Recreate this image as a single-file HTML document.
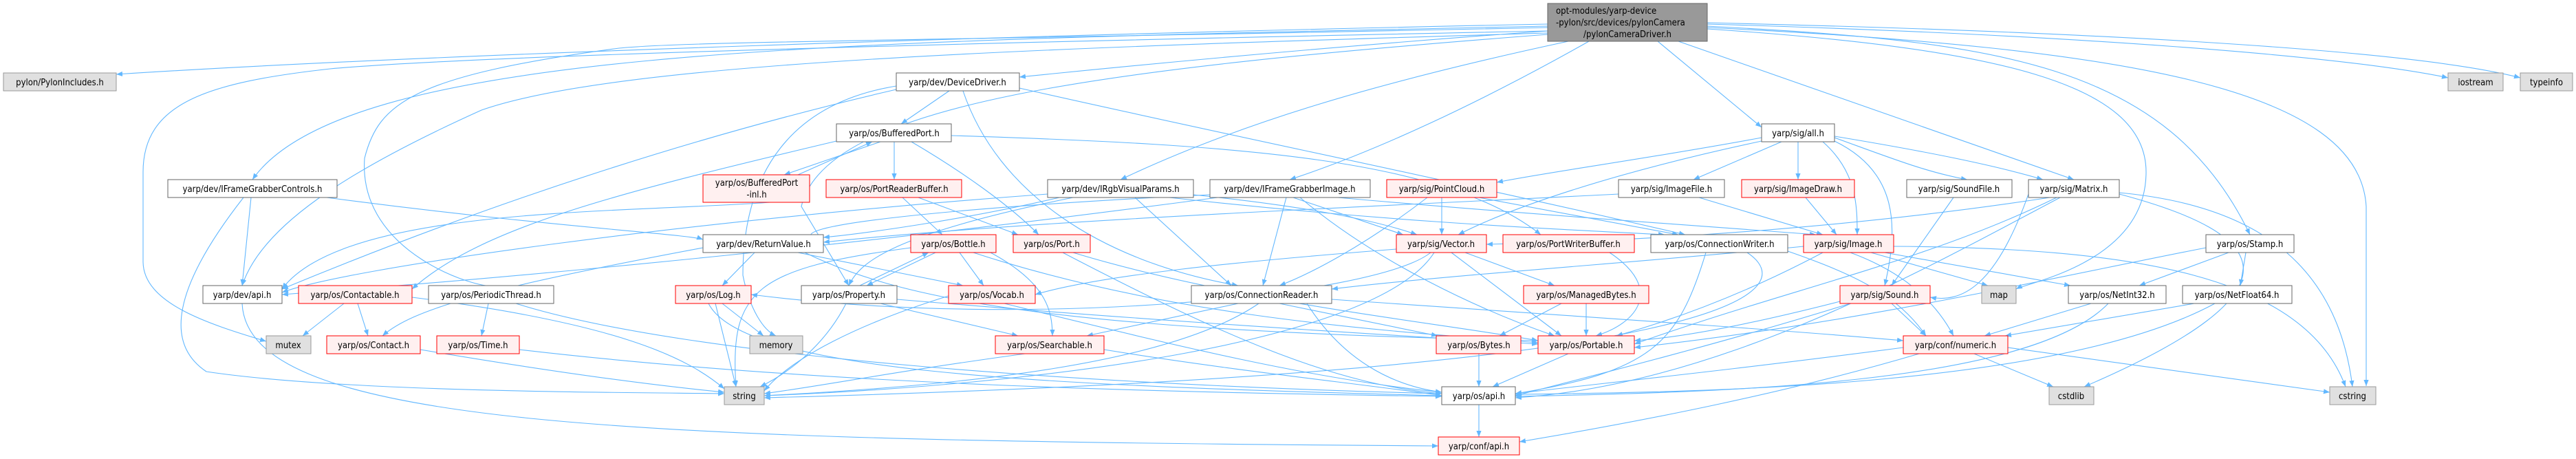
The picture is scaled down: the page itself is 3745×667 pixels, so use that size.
<!DOCTYPE html>
<html><head><meta charset="utf-8"><style>
html,body{margin:0;padding:0;background:#fff;}
svg{display:block;}
text{font-family:"DejaVu Sans Condensed","Liberation Sans",sans-serif;font-size:13px;fill:#000;}
.e{fill:none;stroke:#63b8ff;stroke-width:1.1;}
.w{fill:#fff;stroke:#666;stroke-width:1;}
.r{fill:#fff0f0;stroke:#f00;stroke-width:1;}
.g{fill:#e0e0e0;stroke:#999;stroke-width:1;}
</style></head><body>
<svg width="3745" height="667" viewBox="0 0 3745 667" xmlns="http://www.w3.org/2000/svg">
<defs><marker id="a" viewBox="0 0 10 10" refX="10" refY="5" markerWidth="9" markerHeight="9" orient="auto" markerUnits="userSpaceOnUse"><path d="M0,1 L10,5 L0,9 z" fill="#63b8ff"/></marker></defs>
<g marker-end="url(#a)">
<path class="e" d="M2250,35 C1500,50 600,80 169,108"/>
<path class="e" d="M2250,38 C1200,60 500,70 367,261"/>
<path class="e" d="M2250,45 C1900,70 1600,100 1482,112"/>
<path class="e" d="M2280,60 C2000,120 1800,180 1629,261"/>
<path class="e" d="M2310,60 C2150,150 2000,220 1875,261"/>
<path class="e" d="M2410,60 L2561,185"/>
<path class="e" d="M2440,60 C2700,150 2900,220 3015,261"/>
<path class="e" d="M2482,38 C2900,60 3150,90 3271,341"/>
<path class="e" d="M2482,35 C3000,50 3400,80 3559,113"/>
<path class="e" d="M2482,33 C3000,45 3500,70 3664,113"/>
<path class="e" d="M2482,40 C3100,70 3430,130 3440,300 L3440,561"/>
<path class="e" d="M2482,42 C2900,70 3120,120 3120,250 C3120,380 2950,410 2931,420"/>
<path class="e" d="M2250,40 C1300,60 1000,60 900,70 C600,110 550,150 530,230 C520,370 700,420 714,415"/>
<path class="e" d="M2250,45 C1500,60 700,80 480,100 C300,120 208,150 208,250 L208,380 C208,440 300,470 387,496"/>
<path class="e" d="M2250,48 C1500,70 900,90 700,160 C500,250 380,330 352,415"/>
<path class="e" d="M2250,50 C1600,100 1200,150 1165,300 L1234,415"/>
<path class="e" d="M365,287 L352,415"/>
<path class="e" d="M354,287 C250,420 240,500 300,540 C500,570 900,570 1053,572"/>
<path class="e" d="M475,287 C800,330 1000,340 1022,348"/>
<path class="e" d="M1380,132 L1310,180"/>
<path class="e" d="M1303,125 C1150,150 1080,250 1080,400 C1090,450 1110,480 1128,488"/>
<path class="e" d="M1303,130 C1000,200 700,300 410,420"/>
<path class="e" d="M1400,132 C1450,280 1600,380 1800,415"/>
<path class="e" d="M1482,128 C1800,200 2100,260 2450,341"/>
<path class="e" d="M1280,206 L1140,254"/>
<path class="e" d="M1300,206 L1300,261"/>
<path class="e" d="M1325,206 C1400,250 1470,300 1510,341"/>
<path class="e" d="M1383,197 C1800,210 2100,230 2240,341"/>
<path class="e" d="M1216,205 C900,280 700,330 599,420"/>
<path class="e" d="M1160,254 L1268,206"/>
<path class="e" d="M1120,294 C900,310 500,300 410,420"/>
<path class="e" d="M1312,287 L1370,341"/>
<path class="e" d="M1335,287 L1480,341"/>
<path class="e" d="M1540,287 C1400,320 1250,340 1197,345"/>
<path class="e" d="M1560,287 C1300,340 1250,380 1234,415"/>
<path class="e" d="M1523,282 C1000,320 500,390 410,425"/>
<path class="e" d="M1650,287 L1790,415"/>
<path class="e" d="M1735,283 C1900,300 2000,320 2060,341"/>
<path class="e" d="M1700,287 C2000,320 2200,330 2420,341"/>
<path class="e" d="M1870,287 L1836,415"/>
<path class="e" d="M1880,287 L2040,341"/>
<path class="e" d="M1945,287 C2200,310 2500,330 2640,341"/>
<path class="e" d="M1890,287 C2000,380 2150,450 2260,488"/>
<path class="e" d="M1759,283 C1400,300 1100,330 1197,350"/>
<path class="e" d="M1770,287 C1300,350 800,400 410,428"/>
<path class="e" d="M1097,367 L1050,415"/>
<path class="e" d="M1160,367 L1400,415"/>
<path class="e" d="M1170,367 C1300,430 1500,480 2236,495"/>
<path class="e" d="M1022,360 C700,420 600,450 556,488"/>
<path class="e" d="M1360,367 L1260,415"/>
<path class="e" d="M1395,367 L1430,415"/>
<path class="e" d="M1440,367 C1520,410 1530,450 1530,488"/>
<path class="e" d="M1415,367 C1700,460 2000,480 2236,498"/>
<path class="e" d="M1324,360 C1100,390 1060,420 1070,562"/>
<path class="e" d="M1250,415 L1350,367"/>
<path class="e" d="M1280,441 L1480,488"/>
<path class="e" d="M1304,435 C1600,460 1900,480 2236,500"/>
<path class="e" d="M1230,441 C1200,500 1150,540 1105,562"/>
<path class="e" d="M1545,367 C1800,500 1950,560 2096,572"/>
<path class="e" d="M1560,367 C1800,440 2100,470 2236,495"/>
<path class="e" d="M1050,441 L1110,488"/>
<path class="e" d="M1040,441 L1070,562"/>
<path class="e" d="M1030,441 C1080,540 1500,560 2096,575"/>
<path class="e" d="M1460,441 C1700,500 1900,550 2096,570"/>
<path class="e" d="M1379,430 C1250,470 1150,520 1111,568"/>
<path class="e" d="M1860,441 L2090,488"/>
<path class="e" d="M1800,441 L1580,488"/>
<path class="e" d="M1936,435 C2300,460 2600,480 2767,495"/>
<path class="e" d="M1830,441 C1700,530 1400,560 1111,575"/>
<path class="e" d="M1900,441 C1950,520 2020,560 2096,570"/>
<path class="e" d="M1490,514 C1300,540 1200,560 1111,572"/>
<path class="e" d="M1605,508 C1800,540 2000,560 2096,575"/>
<path class="e" d="M500,441 L440,488"/>
<path class="e" d="M520,441 L535,488"/>
<path class="e" d="M599,432 C900,470 1000,520 1053,565"/>
<path class="e" d="M611,508 C800,540 950,560 1053,570"/>
<path class="e" d="M710,441 L700,488"/>
<path class="e" d="M750,441 C1000,520 1600,560 2096,572"/>
<path class="e" d="M755,508 C1200,560 1700,570 2096,576"/>
<path class="e" d="M352,441 C360,620 900,640 2091,648"/>
<path class="e" d="M2561,200 C2400,230 2250,250 2176,265"/>
<path class="e" d="M2590,206 L2462,261"/>
<path class="e" d="M2614,206 L2614,261"/>
<path class="e" d="M2650,206 C2700,250 2700,300 2700,341"/>
<path class="e" d="M2561,205 C2350,250 2200,300 2120,341"/>
<path class="e" d="M2667,200 C2750,230 2800,250 2860,261"/>
<path class="e" d="M2667,198 C2800,220 2900,240 2970,261"/>
<path class="e" d="M2667,205 C2760,250 2760,330 2740,415"/>
<path class="e" d="M2096,287 L2096,341"/>
<path class="e" d="M2075,287 C1980,360 1900,400 1860,415"/>
<path class="e" d="M2150,287 L2440,341"/>
<path class="e" d="M2470,287 L2650,341"/>
<path class="e" d="M2353,282 C2000,300 1500,320 1197,352"/>
<path class="e" d="M2625,287 L2670,341"/>
<path class="e" d="M2130,367 L2260,415"/>
<path class="e" d="M2110,367 L2270,488"/>
<path class="e" d="M2080,367 C2000,430 1500,480 1092,428"/>
<path class="e" d="M2085,367 C2000,500 1500,560 1111,575"/>
<path class="e" d="M2030,362 C1800,380 1600,400 1505,428"/>
<path class="e" d="M2340,367 C2420,420 2380,470 2320,488"/>
<path class="e" d="M2480,367 C2440,500 2400,540 2203,572"/>
<path class="e" d="M2540,367 C2620,420 2550,540 1111,578"/>
<path class="e" d="M2599,365 C2700,400 2760,430 2800,488"/>
<path class="e" d="M2270,441 L2180,488"/>
<path class="e" d="M2306,441 L2306,488"/>
<path class="e" d="M2150,514 L2150,562"/>
<path class="e" d="M2280,514 L2170,562"/>
<path class="e" d="M2150,588 L2150,635"/>
<path class="e" d="M2650,367 C2550,420 2450,460 2350,488"/>
<path class="e" d="M2720,367 L2890,415"/>
<path class="e" d="M2740,367 L3010,415"/>
<path class="e" d="M2753,358 C3100,360 3350,400 3410,562"/>
<path class="e" d="M2690,367 C2780,400 2820,450 2840,488"/>
<path class="e" d="M2622,358 C2400,380 2100,400 1936,420"/>
<path class="e" d="M2840,287 L2750,415"/>
<path class="e" d="M2750,441 L2800,488"/>
<path class="e" d="M2690,441 C2500,500 2300,550 2203,575"/>
<path class="e" d="M2675,438 C2550,470 2450,490 2376,495"/>
<path class="e" d="M2980,287 C2700,330 2400,350 2161,355"/>
<path class="e" d="M2990,287 C2800,380 2600,420 2376,500"/>
<path class="e" d="M2995,287 C2800,390 2500,560 2203,578"/>
<path class="e" d="M3081,280 C3300,300 3400,400 3420,562"/>
<path class="e" d="M3081,282 C3300,340 3360,420 3030,562"/>
<path class="e" d="M2949,282 C2900,420 2850,440 2806,432"/>
<path class="e" d="M3240,367 L3110,415"/>
<path class="e" d="M3265,367 L3257,415"/>
<path class="e" d="M3207,360 C3000,400 2700,470 2376,505"/>
<path class="e" d="M3040,441 L2885,488"/>
<path class="e" d="M3065,441 C2950,560 2500,570 2203,576"/>
<path class="e" d="M3190,441 L2915,488"/>
<path class="e" d="M3220,441 C3000,560 2500,570 2203,573"/>
<path class="e" d="M2870,514 L2985,562"/>
<path class="e" d="M2919,505 L3387,570"/>
<path class="e" d="M2790,514 C2600,570 2400,610 2209,642"/>
<path class="e" d="M2767,505 C2500,540 2300,560 2203,572"/>
</g>
<rect x="2250" y="5" width="232" height="55" fill="#999" stroke="#666"/>
<text x="2262" y="20">opt-modules/yarp-device</text>
<text x="2262" y="37">-pylon/src/devices/pylonCamera</text>
<text x="2366" y="54" text-anchor="middle">/pylonCameraDriver.h</text>
<g text-anchor="middle">
<rect class="g" x="5" y="106" width="164" height="26"/><text x="87" y="124">pylon/PylonIncludes.h</text>
<rect class="w" x="244" y="261" width="246" height="26"/><text x="367" y="279">yarp/dev/IFrameGrabberControls.h</text>
<rect class="w" x="295" y="415" width="115" height="26"/><text x="352" y="433">yarp/dev/api.h</text>
<rect class="r" x="434" y="415" width="165" height="26"/><text x="516" y="433">yarp/os/Contactable.h</text>
<rect class="w" x="623" y="415" width="182" height="26"/><text x="714" y="433">yarp/os/PeriodicThread.h</text>
<rect class="g" x="387" y="488" width="65" height="26"/><text x="419" y="506">mutex</text>
<rect class="r" x="475" y="488" width="136" height="26"/><text x="543" y="506">yarp/os/Contact.h</text>
<rect class="r" x="635" y="488" width="120" height="26"/><text x="695" y="506">yarp/os/Time.h</text>
<rect class="w" x="1303" y="106" width="179" height="26"/><text x="1392" y="124">yarp/dev/DeviceDriver.h</text>
<rect class="w" x="1216" y="180" width="167" height="26"/><text x="1300" y="198">yarp/os/BufferedPort.h</text>
<rect class="r" x="1022" y="254" width="155" height="40"/><text x="1100" y="270">yarp/os/BufferedPort</text><text x="1100" y="287">-inl.h</text>
<rect class="r" x="1201" y="261" width="197" height="26"/><text x="1300" y="279">yarp/os/PortReaderBuffer.h</text>
<rect class="w" x="1523" y="261" width="212" height="26"/><text x="1629" y="279">yarp/dev/IRgbVisualParams.h</text>
<rect class="w" x="1759" y="261" width="233" height="26"/><text x="1875" y="279">yarp/dev/IFrameGrabberImage.h</text>
<rect class="w" x="1022" y="341" width="175" height="26"/><text x="1110" y="359">yarp/dev/ReturnValue.h</text>
<rect class="r" x="1324" y="341" width="124" height="26"/><text x="1386" y="359">yarp/os/Bottle.h</text>
<rect class="r" x="1473" y="341" width="112" height="26"/><text x="1529" y="359">yarp/os/Port.h</text>
<rect class="r" x="982" y="415" width="110" height="26"/><text x="1037" y="433">yarp/os/Log.h</text>
<rect class="w" x="1165" y="415" width="139" height="26"/><text x="1234" y="433">yarp/os/Property.h</text>
<rect class="r" x="1379" y="415" width="126" height="26"/><text x="1442" y="433">yarp/os/Vocab.h</text>
<rect class="w" x="1732" y="415" width="204" height="26"/><text x="1834" y="433">yarp/os/ConnectionReader.h</text>
<rect class="g" x="1090" y="488" width="77" height="26"/><text x="1128" y="506">memory</text>
<rect class="r" x="1447" y="488" width="158" height="26"/><text x="1526" y="506">yarp/os/Searchable.h</text>
<rect class="g" x="1053" y="562" width="58" height="26"/><text x="1082" y="580">string</text>
<rect class="w" x="2561" y="180" width="106" height="26"/><text x="2614" y="198">yarp/sig/all.h</text>
<rect class="r" x="2016" y="261" width="160" height="26"/><text x="2096" y="279">yarp/sig/PointCloud.h</text>
<rect class="w" x="2353" y="261" width="154" height="26"/><text x="2430" y="279">yarp/sig/ImageFile.h</text>
<rect class="r" x="2532" y="261" width="164" height="26"/><text x="2614" y="279">yarp/sig/ImageDraw.h</text>
<rect class="r" x="2030" y="341" width="131" height="26"/><text x="2095" y="359">yarp/sig/Vector.h</text>
<rect class="r" x="2185" y="341" width="191" height="26"/><text x="2280" y="359">yarp/os/PortWriterBuffer.h</text>
<rect class="w" x="2400" y="341" width="199" height="26"/><text x="2500" y="359">yarp/os/ConnectionWriter.h</text>
<rect class="r" x="2622" y="341" width="131" height="26"/><text x="2687" y="359">yarp/sig/Image.h</text>
<rect class="r" x="2215" y="415" width="182" height="26"/><text x="2306" y="433">yarp/os/ManagedBytes.h</text>
<rect class="r" x="2675" y="415" width="131" height="26"/><text x="2740" y="433">yarp/sig/Sound.h</text>
<rect class="r" x="2088" y="488" width="123" height="26"/><text x="2150" y="506">yarp/os/Bytes.h</text>
<rect class="r" x="2236" y="488" width="140" height="26"/><text x="2306" y="506">yarp/os/Portable.h</text>
<rect class="w" x="2096" y="562" width="107" height="26"/><text x="2150" y="580">yarp/os/api.h</text>
<rect class="r" x="2091" y="635" width="118" height="26"/><text x="2150" y="653">yarp/conf/api.h</text>
<rect class="g" x="3559" y="106" width="80" height="26"/><text x="3599" y="124">iostream</text>
<rect class="g" x="3664" y="106" width="76" height="26"/><text x="3702" y="124">typeinfo</text>
<rect class="w" x="2772" y="261" width="153" height="26"/><text x="2848" y="279">yarp/sig/SoundFile.h</text>
<rect class="w" x="2949" y="261" width="132" height="26"/><text x="3015" y="279">yarp/sig/Matrix.h</text>
<rect class="w" x="3207" y="341" width="128" height="26"/><text x="3271" y="359">yarp/os/Stamp.h</text>
<rect class="g" x="2881" y="415" width="50" height="26"/><text x="2906" y="433">map</text>
<rect class="w" x="3007" y="415" width="142" height="26"/><text x="3078" y="433">yarp/os/NetInt32.h</text>
<rect class="w" x="3173" y="415" width="159" height="26"/><text x="3252" y="433">yarp/os/NetFloat64.h</text>
<rect class="r" x="2767" y="488" width="152" height="26"/><text x="2843" y="506">yarp/conf/numeric.h</text>
<rect class="g" x="2979" y="562" width="65" height="26"/><text x="3011" y="580">cstdlib</text>
<rect class="g" x="3387" y="562" width="67" height="26"/><text x="3420" y="580">cstring</text>
</g>
</svg>
</body></html>
